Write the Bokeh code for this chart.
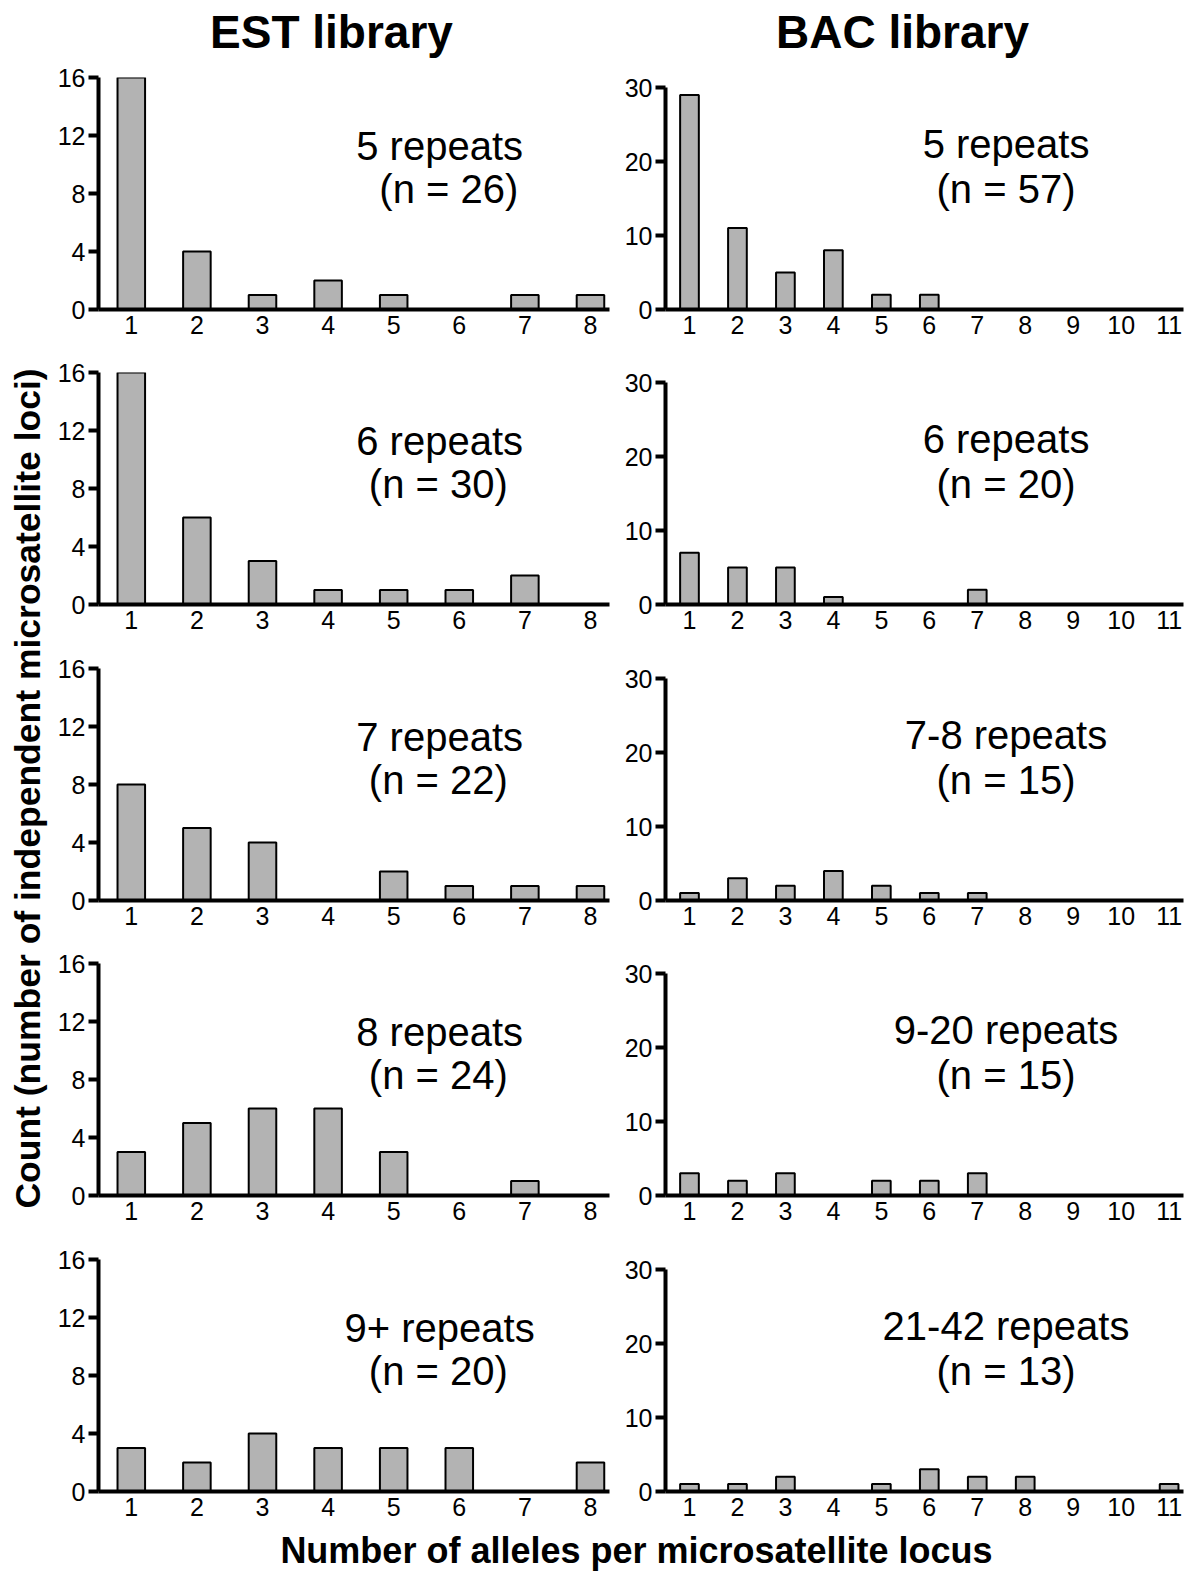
from bokeh.plotting import figure
from bokeh.layouts import column, row
from bokeh.models import FixedTicker, Range1d, Label, ColumnDataSource
from bokeh.embed import file_html
from bokeh.resources import INLINE
import math

# ---------------- data ----------------
est_alleles = [1, 2, 3, 4, 5, 6, 7, 8]
bac_alleles = [1, 2, 3, 4, 5, 6, 7, 8, 9, 10, 11]

est_5 = [16, 4, 1, 2, 1, 0, 1, 1]
est_6 = [16, 6, 3, 1, 1, 1, 2, 0]
est_7 = [8, 5, 4, 0, 2, 1, 1, 1]
est_8 = [3, 5, 6, 6, 3, 0, 1, 0]
est_9plus = [3, 2, 4, 3, 3, 3, 0, 2]

bac_5 = [29, 11, 5, 8, 2, 2, 0, 0, 0, 0, 0]
bac_6 = [7, 5, 5, 1, 0, 0, 2, 0, 0, 0, 0]
bac_7_8 = [1, 3, 2, 4, 2, 1, 1, 0, 0, 0, 0]
bac_9_20 = [3, 2, 3, 0, 2, 2, 3, 0, 0, 0, 0]
bac_21_42 = [1, 1, 2, 0, 1, 3, 2, 2, 0, 0, 1]

est_series = [est_5, est_6, est_7, est_8, est_9plus]
bac_series = [bac_5, bac_6, bac_7_8, bac_9_20, bac_21_42]

est_classes = ["5 repeats", "6 repeats", "7 repeats", "8 repeats", "9+ repeats"]
est_counts = ["(n = 26)", "(n = 30)", "(n = 22)", "(n = 24)", "(n = 20)"]
bac_classes = ["5 repeats", "6 repeats", "7-8 repeats", "9-20 repeats", "21-42 repeats"]
bac_counts = ["(n = 57)", "(n = 20)", "(n = 15)", "(n = 15)", "(n = 13)"]

est_yticks = [0, 4, 8, 12, 16]
bac_yticks = [0, 10, 20, 30]

col_titles = ["EST library", "BAC library"]
y_title = "Count (number of independent microsatellite loci)"
x_title = "Number of alleles per microsatellite locus"

# ---------------- style / layout ----------------
FONT = "Liberation Sans"
BAR_FILL = "#b3b3b3"

HEADER_H = 64
FOOTER_H = 50
YLAB_W = 48
PANEL_HEIGHTS = [295, 296, 295, 296]   # first four rows
LAST_BOTTOM = 34

EST_TOP, EST_FRAME_H, EST_LEFT, EST_FRAME_W, EST_RIGHT = 13, 232, 50, 511, 6
BAC_TOP, BAC_FRAME_H, BAC_LEFT, BAC_FRAME_W, BAC_RIGHT = 23, 222, 50, 518, 1


def panel(xs, ys, yticks, ymax, xmax, barw, cls, cnt, tx1, tx2, ty1, ty2,
          frame_w, frame_h, b_left, b_right, b_top, b_bottom):
    p = figure(width=b_left + frame_w + b_right,
               height=b_top + frame_h + b_bottom,
               output_backend="svg", toolbar_location=None,
               x_range=Range1d(0.5, xmax), y_range=Range1d(0, ymax),
               min_border_left=b_left, min_border_right=b_right,
               min_border_top=b_top, min_border_bottom=b_bottom)
    p.outline_line_color = None
    p.grid.visible = False
    p.background_fill_color = "white"
    p.border_fill_color = "white"

    keep = [i for i, v in enumerate(ys) if v > 0]
    src = ColumnDataSource(dict(x=[xs[i] for i in keep], top=[ys[i] for i in keep]))
    p.vbar(x="x", top="top", bottom=0, width=barw, source=src,
           fill_color=BAR_FILL, line_color="black", line_width=2)

    for ax in (p.xaxis[0], p.yaxis[0]):
        ax.axis_line_width = 4
        ax.axis_line_color = "black"
        ax.major_tick_line_width = 4
        ax.major_tick_line_color = "black"
        ax.minor_tick_line_color = None
        ax.major_tick_in = 0
        ax.major_label_text_font = FONT
        ax.major_label_text_font_size = "25px"
        ax.major_label_text_color = "black"
    p.xaxis.ticker = FixedTicker(ticks=xs)
    p.xaxis.major_tick_out = 0
    p.xaxis.major_label_standoff = 6
    p.yaxis.ticker = FixedTicker(ticks=yticks)
    p.yaxis.major_tick_out = 10
    p.yaxis.major_label_standoff = 3

    p.add_layout(Label(x=tx1, y=ty1, text=cls, text_align="center",
                       text_baseline="middle", text_font=FONT,
                       text_font_size="40px", text_color="black"))
    p.add_layout(Label(x=tx2, y=ty2, text=cnt, text_align="center",
                       text_baseline="middle", text_font=FONT,
                       text_font_size="40px", text_color="black"))
    return p


est_figs, bac_figs = [], []
for k in range(5):
    if k < 4:
        h = PANEL_HEIGHTS[k]
        bb_e = h - EST_TOP - EST_FRAME_H
        bb_b = h - BAC_TOP - BAC_FRAME_H
    else:
        bb_e = LAST_BOTTOM
        bb_b = EST_TOP + EST_FRAME_H + LAST_BOTTOM - BAC_TOP - BAC_FRAME_H
    est_figs.append(panel(est_alleles, est_series[k], est_yticks, 16, 8.29, 0.42,
                          est_classes[k], est_counts[k],
                          5.70, 5.84 if k == 0 else 5.68, 11.3, 8.28,
                          EST_FRAME_W, EST_FRAME_H, EST_LEFT, EST_RIGHT,
                          EST_TOP, bb_e))
    bac_figs.append(panel(bac_alleles, bac_series[k], bac_yticks, 30, 11.3, 0.39,
                          bac_classes[k], bac_counts[k],
                          7.6, 7.6, 22.3, 16.35,
                          BAC_FRAME_W, BAC_FRAME_H, BAC_LEFT, BAC_RIGHT,
                          BAC_TOP, bb_b))

TOTAL_W = YLAB_W + (EST_LEFT + EST_FRAME_W + EST_RIGHT) + (BAC_LEFT + BAC_FRAME_W + BAC_RIGHT)
PANEL_H = sum(PANEL_HEIGHTS) + EST_TOP + EST_FRAME_H + LAST_BOTTOM


def blank(w, h):
    f = figure(width=w, height=h, output_backend="svg", toolbar_location=None,
               x_range=Range1d(0, w), y_range=Range1d(0, h), min_border=0)
    f.axis.visible = False
    f.grid.visible = False
    f.outline_line_color = None
    return f


header = blank(TOTAL_W, HEADER_H)
for tx, t in zip([331, 902], col_titles):
    header.add_layout(Label(x=tx, y=HEADER_H - 31, text=t, text_align="center",
                            text_baseline="middle", text_font=FONT,
                            text_font_size="46px", text_font_style="bold",
                            text_color="black"))

yfig = blank(YLAB_W, PANEL_H)
yfig.add_layout(Label(x=27, y=PANEL_H - 724, text=y_title, text_align="center",
                      text_baseline="middle", angle=math.pi / 2,
                      text_font=FONT, text_font_size="35.5px",
                      text_font_style="bold", text_color="black"))

footer = blank(TOTAL_W, FOOTER_H)
footer.add_layout(Label(x=636, y=FOOTER_H - 25, text=x_title, text_align="center",
                        text_baseline="middle", text_font=FONT,
                        text_font_size="36px", text_font_style="bold",
                        text_color="black"))

layout = column(header,
                row(yfig, column(*est_figs), column(*bac_figs)),
                footer)

open("out.html", "w").write(file_html(layout, INLINE))
